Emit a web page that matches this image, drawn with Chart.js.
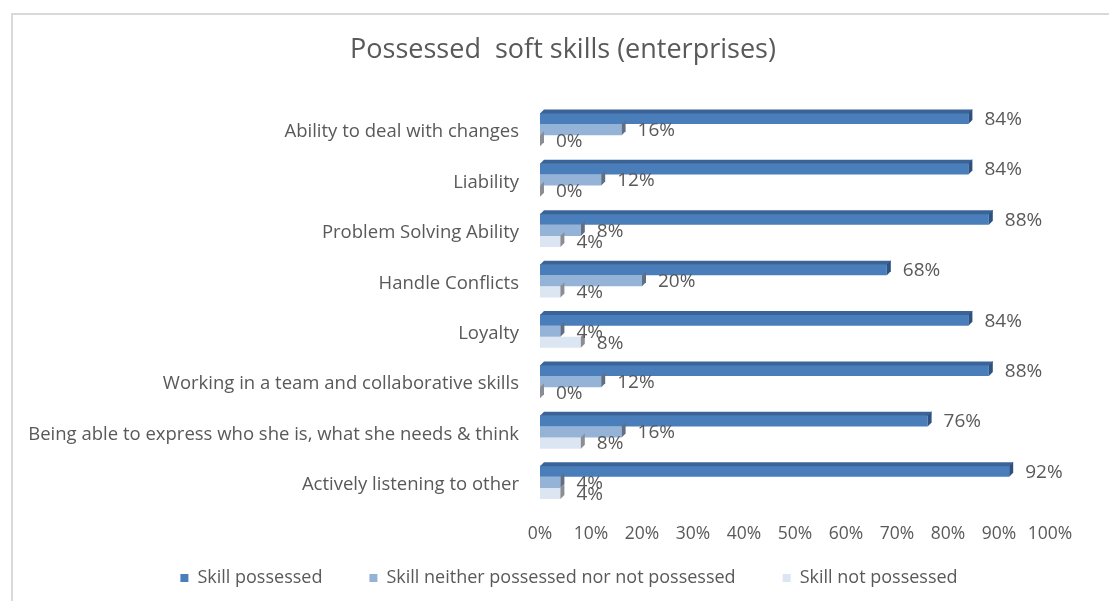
<!DOCTYPE html>
<html>
<head>
<meta charset="utf-8">
<title>Possessed soft skills (enterprises)</title>
<script src="https://cdn.jsdelivr.net/npm/chart.js@4/dist/chart.umd.min.js"></script>
<style>
  html, body { margin: 0; padding: 0; background: #ffffff; }
  #wrap { position: relative; width: 1110px; height: 601px; overflow: hidden; }
  #frame {
    position: absolute; left: 11px; top: 13px; width: 1098px; height: 600px;
    border-left: 2px solid #d9d9d9; border-top: 2px solid #d9d9d9; box-sizing: border-box;
    pointer-events: none;
  }
  canvas { position: absolute; left: 0; top: 0; }
</style>
</head>
<body>
<div id="wrap">
  <canvas id="chart" width="1110" height="601"></canvas>
  <div id="frame"></div>
</div>
<script>
// Soft skills surveyed among enterprises (percent of respondents)
const categories = [
  'Ability to deal with changes',
  'Liability',
  'Problem Solving Ability',
  'Handle Conflicts',
  'Loyalty',
  'Working in a team and collaborative skills',
  'Being able to express who she is, what she needs & think',
  'Actively listening to other'
];
const skillPossessed = [84, 84, 88, 68, 84, 88, 76, 92];
const skillNeither   = [16, 12, 8, 20, 4, 12, 16, 4];
const skillNot       = [0, 0, 4, 4, 8, 0, 8, 4];
const seriesNames = ['Skill possessed', 'Skill neither possessed nor not possessed', 'Skill not possessed'];
const xTickLabels = ['0%', '10%', '20%', '30%', '40%', '50%', '60%', '70%', '80%', '90%', '100%'];

const FONT = "'Open Sans', 'Noto Sans', sans-serif";
const TEXT = '#595959';

// front / top / side shades for the pseudo-3D bars
const faces = [
  { front: '#4a7ebb', top: '#3a6498', side: '#2d5180' },
  { front: '#95b3d7', top: '#95b3d7', side: '#5f6f86' },
  { front: '#dce6f2', top: '#dce6f2', side: '#8a8e94' }
];

// bar depth (top + right faces) and the value labels
const barDepth = {
  id: 'barDepth',
  afterDatasetsDraw(chart) {
    const ctx = chart.ctx;
    const d = 4;
    ctx.save();
    chart.data.datasets.forEach((ds, i) => {
      const meta = chart.getDatasetMeta(i);
      if (meta.hidden) return;
      meta.data.forEach((bar) => {
        const p = bar.getProps(['x', 'y', 'base', 'height'], true);
        const top = p.y - p.height / 2;
        const bottom = p.y + p.height / 2;
        if (i === 0) {
          ctx.fillStyle = faces[i].top;
          ctx.beginPath();
          ctx.moveTo(p.base, top + 0.5);
          ctx.lineTo(p.x, top + 0.5);
          ctx.lineTo(p.x + d, top - d + 0.5);
          ctx.lineTo(p.base + d, top - d + 0.5);
          ctx.closePath();
          ctx.fill();
        }
        ctx.fillStyle = faces[i].side;
        ctx.beginPath();
        ctx.moveTo(p.x, top);
        ctx.lineTo(p.x + d, top - d);
        ctx.lineTo(p.x + d, bottom - d);
        ctx.lineTo(p.x, bottom);
        ctx.closePath();
        ctx.fill();
      });
    });
    ctx.fillStyle = TEXT;
    ctx.font = "19px " + FONT;
    ctx.textAlign = 'left';
    ctx.textBaseline = 'middle';
    chart.data.datasets.forEach((ds, i) => {
      const meta = chart.getDatasetMeta(i);
      if (meta.hidden) return;
      meta.data.forEach((bar, j) => {
        const p = bar.getProps(['x', 'y'], true);
        ctx.fillText(ds.data[j] + '%', p.x + 16, p.y + 1);
      });
    });
    ctx.restore();
  }
};

// title and legend are centred over the frame rather than the full canvas
const placeBoxes = {
  id: 'placeBoxes',
  afterLayout(chart) {
    const t = chart.titleBlock;
    if (t) {
      t.left = 76; t.right = 1050; t.width = t.right - t.left;
    }
    const lg = chart.legend;
    if (lg) {
      lg.left = 88; lg.right = 1050; lg.width = lg.right - lg.left;
      lg.top = 522; lg.bottom = 601; lg.height = lg.bottom - lg.top;
    }
  }
};

new Chart(document.getElementById('chart'), {
  type: 'bar',
  data: {
    labels: categories,
    datasets: [
      { label: seriesNames[0], data: skillPossessed, backgroundColor: faces[0].front },
      { label: seriesNames[1], data: skillNeither, backgroundColor: faces[1].front },
      { label: seriesNames[2], data: skillNot, backgroundColor: faces[2].front }
    ]
  },
  options: {
    indexAxis: 'y',
    responsive: false,
    animation: false,
    events: [],
    categoryPercentage: 0.66,
    barPercentage: 1.0,
    layout: { padding: { left: 0, right: 60, top: 0, bottom: -16.4 } },
    scales: {
      x: {
        min: 0, max: 100,
        grid: { display: false, drawTicks: false },
        border: { display: false },
        ticks: {
          stepSize: 10,
          padding: 16.4,
          color: TEXT,
          font: { family: FONT, size: 17.5 },
          callback: (v, idx) => xTickLabels[idx]
        }
      },
      y: {
        grid: { display: false, drawTicks: false },
        border: { display: false },
        ticks: {
          padding: 21,
          labelOffset: 2.5,
          color: TEXT,
          font: { family: FONT, size: 18.5 }
        },
        afterFit: (s) => { s.width = 540; }
      }
    },
    plugins: {
      title: {
        display: true,
        text: 'Possessed  soft skills (enterprises)',
        color: TEXT,
        font: { family: FONT, size: 27, weight: 'normal' },
        padding: { top: 33.8, bottom: 38.2 }
      },
      legend: {
        position: 'bottom',
        maxHeight: 56,
        labels: {
          boxWidth: 8,
          boxHeight: 8,
          padding: 47,
          color: TEXT,
          font: { family: FONT, size: 18 }
        }
      },
      tooltip: { enabled: false }
    }
  },
  plugins: [barDepth, placeBoxes]
});
</script>
</body>
</html>
